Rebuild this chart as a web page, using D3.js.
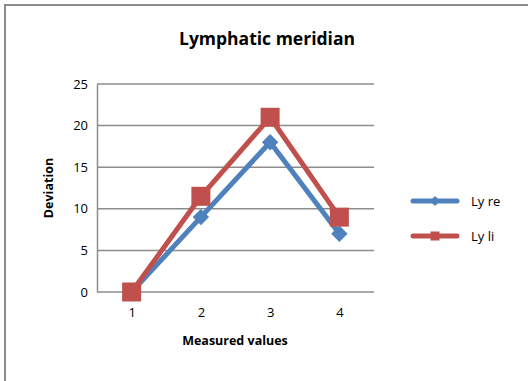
<!DOCTYPE html>
<html lang="en">
<head>
<meta charset="UTF-8">
<script src="https://cdn.jsdelivr.net/npm/d3@7/dist/d3.min.js"></script>
<style>
  body { margin: 0; background: #fff; }
  text { font-family: "Open Sans", sans-serif; fill: #000; }
</style>
</head>
<body>
<svg width="528" height="381"></svg>
<script>
// chart data
const categories = ["1", "2", "3", "4"];
const lyRe = [0, 9, 18, 7];
const lyLi = [0, 11.5, 21, 9];
const yTicks = [0, 5, 10, 15, 20, 25];
const seriesNames = ["Ly re", "Ly li"];
const colors = ["#4f81bd", "#c0504d"];

const svg = d3.select("svg");
const margin = {top: 84, right: 154, bottom: 89, left: 97};
const width = 528, height = 381;

// outer frame
svg.append("rect")
    .attr("x", 5).attr("y", 5)
    .attr("width", 540).attr("height", 400)
    .attr("fill", "none")
    .attr("stroke", "#8c8c8c")
    .attr("stroke-width", 2);

const x = d3.scalePoint()
    .domain(categories)
    .range([margin.left, width - margin.right])
    .padding(0.5);

const y = d3.scaleLinear()
    .domain([0, 25])
    .range([height - margin.bottom, margin.top]);

// gridlines
svg.append("g")
    .selectAll("line")
    .data(yTicks)
    .join("line")
    .attr("x1", margin.left)
    .attr("x2", width - margin.right)
    .attr("y1", d => y(d))
    .attr("y2", d => y(d))
    .attr("stroke", "#8c8c8c")
    .attr("stroke-width", 1.5);

// y axis
svg.append("g")
    .attr("transform", `translate(${margin.left},0)`)
    .call(d3.axisLeft(y).tickValues(yTicks).tickSize(0).tickPadding(9))
    .call(g => g.select(".domain").attr("stroke", "#8c8c8c").attr("stroke-width", 1.5))
    .call(g => g.selectAll("text").style("font-family", "'Open Sans', sans-serif").style("font-size", "13px"));

// x axis
svg.append("g")
    .attr("transform", `translate(0,${height - margin.bottom})`)
    .call(d3.axisBottom(x).tickSize(0).tickPadding(16))
    .call(g => g.select(".domain").remove())
    .call(g => g.selectAll("text").style("font-family", "'Open Sans', sans-serif").style("font-size", "13px"));

// title and axis labels
svg.append("text")
    .attr("x", 267).attr("y", 45)
    .attr("text-anchor", "middle")
    .attr("font-weight", "bold")
    .attr("font-size", 17.5)
    .text("Lymphatic meridian");

svg.append("text")
    .attr("x", 235).attr("y", 345)
    .attr("text-anchor", "middle")
    .attr("font-weight", "bold")
    .attr("font-size", 12.5)
    .text("Measured values");

svg.append("text")
    .attr("transform", "translate(53,188) rotate(-90)")
    .attr("text-anchor", "middle")
    .attr("font-weight", "bold")
    .attr("font-size", 12.5)
    .text("Deviation");

const line = d3.line()
    .x((d, i) => x(categories[i]))
    .y(d => y(d));

const series = [lyRe, lyLi];

series.forEach((vals, s) => {
  svg.append("path")
      .datum(vals)
      .attr("fill", "none")
      .attr("stroke", colors[s])
      .attr("stroke-width", 5)
      .attr("stroke-linejoin", "round")
      .attr("d", line);
});

// diamond markers
svg.append("g").selectAll("rect")
    .data(lyRe)
    .join("rect")
    .attr("x", -5.8).attr("y", -5.8)
    .attr("width", 11.6).attr("height", 11.6)
    .attr("transform", (d, i) => `translate(${x(categories[i])},${y(d)}) rotate(45)`)
    .attr("fill", colors[0]);

// square markers
svg.append("g").selectAll("rect")
    .data(lyLi)
    .join("rect")
    .attr("x", (d, i) => x(categories[i]) - 9.5)
    .attr("y", d => y(d) - 9.5)
    .attr("width", 19).attr("height", 19)
    .attr("fill", colors[1]);

// legend
const legend = svg.append("g");
seriesNames.forEach((name, s) => {
  const ly = 201 + s * 35;
  legend.append("line")
      .attr("x1", 413).attr("x2", 457)
      .attr("y1", ly).attr("y2", ly)
      .attr("stroke", colors[s])
      .attr("stroke-width", 5)
      .attr("stroke-linecap", "round");
  if (s === 0) {
    legend.append("rect")
        .attr("x", 435 - 3.5).attr("y", ly - 3.5)
        .attr("width", 7).attr("height", 7)
        .attr("transform", `rotate(45,435,${ly})`)
        .attr("fill", colors[s]);
  } else {
    legend.append("rect")
        .attr("x", 435 - 4.5).attr("y", ly - 4.5)
        .attr("width", 9).attr("height", 9)
        .attr("fill", colors[s]);
  }
  legend.append("text")
      .attr("x", 471).attr("y", ly)
      .attr("dy", "0.35em")
      .attr("font-size", 13)
      .text(name);
});
</script>
</body>
</html>
